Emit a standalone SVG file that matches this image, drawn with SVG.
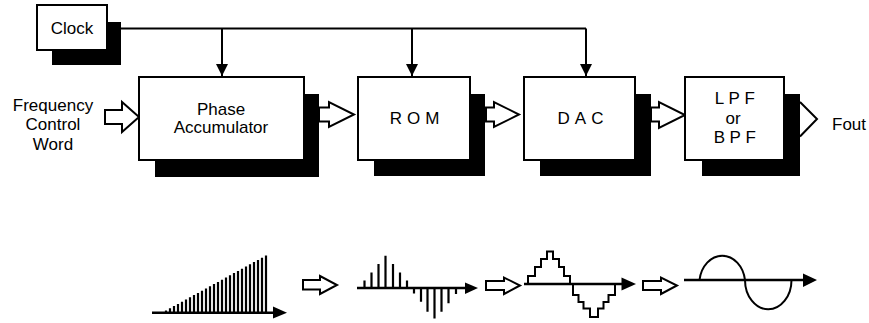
<svg xmlns="http://www.w3.org/2000/svg" width="869" height="323" viewBox="0 0 869 323">
<style>
.box{fill:#fff;stroke:#000;stroke-width:2}
.sh{fill:#000}
.t{font-family:"Liberation Sans",Arial,sans-serif;font-size:17px;fill:#000;text-anchor:middle}
.ha{fill:#fff;stroke:#000;stroke-width:2;stroke-linejoin:miter}
.ln{fill:none;stroke:#000;stroke-width:2}
.ax{fill:none;stroke:#000;stroke-width:2.5}
.bar{fill:none;stroke:#000;stroke-width:2.2}
</style>
<defs>
<marker id="ah" markerWidth="12" markerHeight="12" viewBox="0 0 12 12" refX="12" refY="6" orient="auto" markerUnits="userSpaceOnUse">
<path d="M0,0 L12,6 L0,12 Z" fill="#000"/>
</marker>
</defs>

<g id="connectors">
<path class="ln" d="M121,28.5 H586"/>
<path class="ln" d="M222,28.5 V76" marker-end="url(#ah)"/>
<path class="ln" d="M412,28.5 V76" marker-end="url(#ah)"/>
<path class="ln" d="M586,28.5 V76" marker-end="url(#ah)"/>
<path class="ha" d="M105,110 H122 V102 L139,117 L122,132 V124 H105 Z"/>
<path class="ha" d="M319,107.5 H329 V102 L354,114.5 L329,127 V121.5 H319 Z"/>
<path class="ha" d="M486,107.5 H494 V102 L519,114.5 L494,127 V121.5 H486 Z"/>
<path class="ha" d="M651,107.5 H659 V102 L685,115 L659,128 V121.5 H651 Z"/>
<path class="ln" d="M800,102 L817,119 L800,136.5"/>
</g>

<g id="clock">
<rect class="sh" x="52" y="22" width="69" height="43"/>
<rect class="box" x="37" y="5" width="70" height="45"/>
<text class="t" x="72" y="33.5">Clock</text>
</g>

<g id="fcw">
<text class="t" x="53" y="110.5">Frequency</text>
<text class="t" x="53" y="130">Control</text>
<text class="t" x="53" y="149.5">Word</text>
</g>

<g id="phase-accumulator">
<rect class="sh" x="155" y="94" width="164" height="83"/>
<rect class="box" x="139" y="77" width="165" height="83"/>
<text class="t" x="221" y="115">Phase</text>
<text class="t" x="221" y="133">Accumulator</text>
</g>

<g id="rom">
<rect class="sh" x="374" y="94" width="111" height="82"/>
<rect class="box" x="358" y="77" width="112" height="83"/>
<text class="t" x="417" y="124" letter-spacing="5">ROM</text>
</g>

<g id="dac">
<rect class="sh" x="540" y="94" width="111" height="82"/>
<rect class="box" x="524" y="77" width="111" height="83"/>
<text class="t" x="583" y="123.5" letter-spacing="5">DAC</text>
</g>

<g id="filter">
<rect class="sh" x="702" y="94" width="98" height="82"/>
<rect class="box" x="685" y="77" width="99" height="83"/>
<text class="t" x="737" y="104" letter-spacing="4.5">LPF</text>
<text class="t" x="733" y="124">or</text>
<text class="t" x="737" y="143" letter-spacing="4.5">BPF</text>
</g>

<g id="fout">
<text class="t" x="832" y="130" style="text-anchor:start">Fout</text>
</g>

<g id="waveforms">
<path class="bar" d="M166,312.7V310.5M170,312.7V308.3M174,312.7V306.1M178,312.7V303.9M182,312.7V301.7M186,312.7V299.5M190,312.7V297.3M194,312.7V295.1M198,312.7V292.9M202,312.7V290.7M206,312.7V288.5M210,312.7V286.3M214,312.7V284.1M218,312.7V281.9M222,312.7V279.7M226,312.7V277.5M230,312.7V275.3M234,312.7V273.1M238,312.7V270.9M242,312.7V268.7M246,312.7V266.5M250,312.7V264.3M254,312.7V262.1M258,312.7V259.9M262,312.7V257.7M266,312.7V255.5"/>
<path class="ax" d="M152,312.7 H276"/>
<path d="M273,306.5 L287,312.7 L273,318.5 Z"/>

<path class="ha" d="M303,280 H320 V276 L337,285 L320,294 V289.5 H303 Z"/>

<path class="bar" stroke-width="2.5" d="M364.5,288V280.5M371.5,288V272.5M378.5,288V264M385.5,288V255.7M393,288V264M400,288V272.5M407,288V280.5M414,288V293.5M421,288V301.7M427.5,288V311.7M434.5,288V318.5M441.5,288V311.7M448.5,288V303.3M456,288V294"/>
<path class="ax" d="M357,288 H467"/>
<path d="M465,282.5 L478,288 L465,294 Z"/>

<path class="ha" d="M486,281 H504 V277.5 L520,285.5 L504,294 V290 H486 Z"/>

<path class="ln" d="M528,284 V276 H535 V267 H541 V259 H547 V251.5 H553 V259 H559 V267 H564 V276 H570 V284"/>
<path class="ln" d="M573,284 V295 H578.5 V302 H583.5 V308.5 H590 V317 H598 V308.5 H603.5 V302 H608.5 V295 H615 V284"/>
<path class="ax" d="M524,284 H624"/>
<path d="M621.5,277.5 L636,284 L621.5,290.5 Z"/>

<path class="ha" d="M643,281 H661 V277.5 L677,285.5 L661,294 V290 H643 Z"/>

<path class="ln" stroke-width="2.5" d="M699.5,280 A23,28.5 0 0 1 745,280 A23,29 0 0 0 791.5,280"/>
<path class="ax" d="M684,280 H806"/>
<path d="M803,273.5 L817,280 L803,287 Z"/>
</g>
</svg>
